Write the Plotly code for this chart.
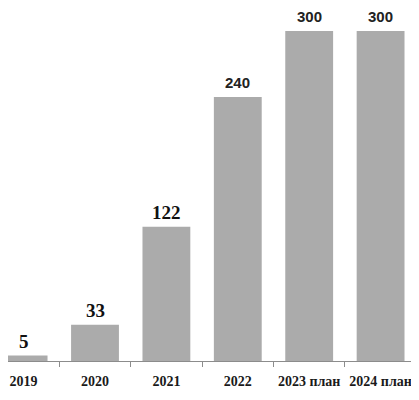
import plotly.graph_objects as go

years = ["2019", "2020", "2021", "2022", "2023 план", "2024 план"]
values = [5, 33, 122, 240, 300, 300]

fig = go.Figure()
fig.add_trace(go.Bar(x=years, y=values, marker_color="#ababab", width=0.67,
                     marker_line_width=0))

# value labels above bars (first three look serif, last ones sans in the source)
for i, v in enumerate(values):
    if i < 3:
        fnt = dict(family="Liberation Serif", size=19, color="#111111", weight="bold")
    else:
        fnt = dict(family="Liberation Sans", size=15, color="#222222", weight="bold")
    fig.add_annotation(x=i, y=v, text=str(v), showarrow=False,
                       yanchor="middle", yshift=14, font=fnt)

# page body has an 8px margin, so the figure is a bit smaller and shifted
fig.update_xaxes(
    type="category",
    range=[-0.2185, 5.496],
    automargin=False,
    tickangle=0,
    showline=True, linecolor="#8c8c8c", linewidth=1,
    ticks="outside", tickson="boundaries", ticklen=5, tickcolor="#8c8c8c",
    ticklabelstandoff=7,
    tickfont=dict(family="Liberation Serif", size=14, color="#1a1a1a", weight="bold"),
    showgrid=False,
)
fig.update_yaxes(range=[0, 320.9], visible=False, showgrid=False, automargin=False)

fig.update_layout(
    width=411, height=392,
    margin=dict(l=0, r=3, t=0, b=39),
    plot_bgcolor="white", paper_bgcolor="white",
    showlegend=False,
    bargap=0.33,
)

fig.write_html("out.html")
